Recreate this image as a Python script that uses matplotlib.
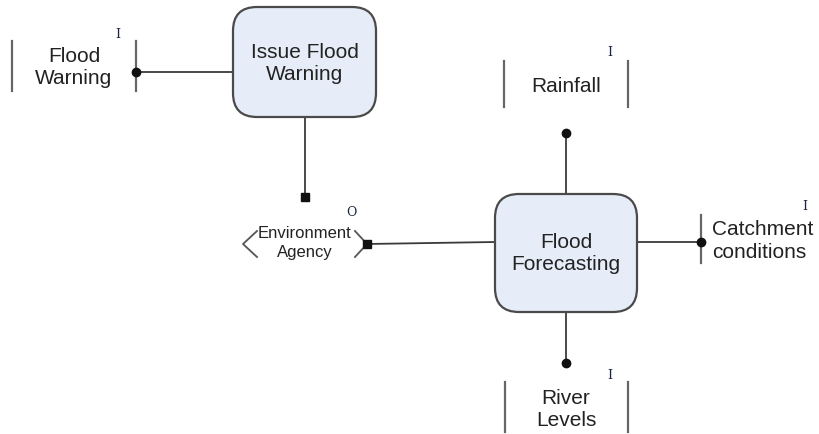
import matplotlib
matplotlib.use("Agg")
import matplotlib.pyplot as plt
from matplotlib.patches import FancyBboxPatch

plt.rcParams['font.family'] = ['Liberation Sans', 'DejaVu Sans']

# Diagram content
process_labels = ["Issue Flood\nWarning", "Flood\nForecasting"]
flow_labels = ["Flood\nWarning", "Rainfall", "Catchment\nconditions", "River\nLevels"]
flow_tags = ["I", "I", "I", "I"]
agent_label = "Environment\nAgency"
agent_tag = "O"

W, H = 820, 435
fig = plt.figure(figsize=(W / 100, H / 100), dpi=100)
ax = fig.add_axes([0, 0, 1, 1])
ax.set_xlim(0, W)
ax.set_ylim(H, 0)
ax.axis('off')

box_fc = '#e7edf8'
box_ec = '#4a4a4a'
line_c = '#3a3a3a'
bar_c = '#666666'
tag_c = '#1c2540'
txt_c = '#222222'
FS = 15
LS = 1.2

def pbox(x0, y0, x1, y1, label):
    p = FancyBboxPatch((x0, y0), x1 - x0, y1 - y0,
                       boxstyle="round,pad=0,rounding_size=24",
                       fc=box_fc, ec=box_ec, lw=1.6, zorder=2)
    ax.add_patch(p)
    ax.text((x0 + x1) / 2, (y0 + y1) / 2, label, ha='center', va='center',
            fontsize=FS, color=txt_c, linespacing=LS, zorder=3)

def dot(x, y):
    ax.plot([x], [y], 'o', ms=6, color='#111111', zorder=4)

def sq(x, y):
    ax.plot([x], [y], 's', ms=6, color='#111111', zorder=4)

def line(xs, ys):
    ax.plot(xs, ys, color=line_c, lw=1.3, zorder=1)

def bar(x, y0, y1):
    ax.plot([x, x], [y0, y1], color=bar_c, lw=1.6, zorder=1)

def tag(x, y, t):
    ax.text(x, y, t, ha='center', va='center', fontsize=9,
            family='DejaVu Serif', color=tag_c)

# Process boxes
pbox(233, 8, 376, 118, process_labels[0])
pbox(495, 195, 637, 313, process_labels[1])

# Flood Warning (left)
line([136, 233], [73, 73])
bar(12, 42, 92)
bar(136, 42, 92)
dot(136, 73)
ax.text(74, 68, flow_labels[0], ha='center', va='center', fontsize=FS,
        color=txt_c, linespacing=LS)
tag(118, 34, flow_tags[0])

# Issue Flood Warning -> Environment Agency
line([305, 305], [118, 198])
sq(305, 198)

# Environment Agency
ax.text(305, 243, agent_label, ha='center', va='center', fontsize=12,
        color=txt_c, linespacing=1.4)
ax.plot([257, 243, 257], [232, 245, 258], color='#555555', lw=1.3)
ax.plot([355, 367, 355], [232, 245, 258], color='#555555', lw=1.3)
tag(351, 213, agent_tag)
line([367, 495], [245, 243])
sq(367, 245)

# Rainfall (top)
line([566, 566], [134, 195])
dot(566, 134)
bar(504, 62, 108)
bar(628, 62, 108)
ax.text(566, 87, flow_labels[1], ha='center', va='center', fontsize=FS,
        color=txt_c)
tag(610, 52, flow_tags[1])

# Catchment conditions (right)
line([637, 701], [243, 243])
bar(701, 216, 264)
dot(701, 243)
ax.text(712, 241, flow_labels[2], ha='left', va='center', fontsize=FS,
        color=txt_c, linespacing=LS)
tag(805, 207, flow_tags[2])

# River Levels (bottom)
line([566, 566], [313, 364])
dot(566, 364)
bar(505, 383, 433)
bar(628, 383, 433)
ax.text(566, 410, flow_labels[3], ha='center', va='center', fontsize=FS,
        color=txt_c, linespacing=LS)
tag(610, 376, flow_tags[3])

fig.savefig("out.png", dpi=100, facecolor='white')
